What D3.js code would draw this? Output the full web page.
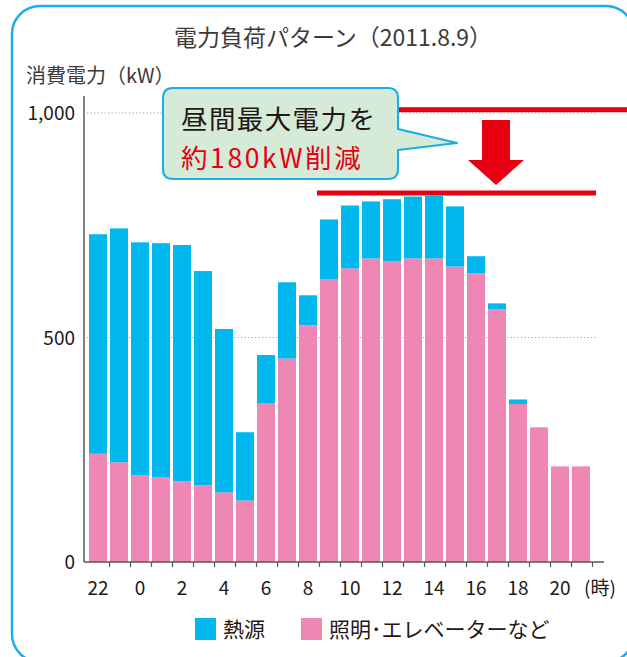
<!DOCTYPE html>
<html>
<head>
  <meta charset="utf-8">
  <title>電力負荷パターン</title>
  <script src="https://d3js.org/d3.v7.min.js"></script>
  <style>
    body { margin: 0; background: #fff; }
    text { font-family: "Noto Sans CJK JP", "Noto Sans", sans-serif; }
  </style>
</head>
<body>
  <div id="chart"></div>
  <script>
    // hours on the x axis (22h of the previous day through 21h)
    const hours = [22, 23, 0, 1, 2, 3, 4, 5, 6, 7, 8, 9, 10, 11, 12, 13, 14, 15, 16, 17, 18, 19, 20, 21];
    // 照明・エレベーターなど (kW)
    const lighting = [241, 222, 193, 189, 180, 171, 155, 137, 354, 453, 527, 629, 654, 676, 670, 676, 676, 658, 643, 563, 352, 300, 213, 213];
    // 熱源 (kW)
    const heat = [489, 521, 519, 521, 526, 477, 364, 152, 107, 170, 67, 134, 140, 127, 138, 138, 140, 134, 38, 13, 10, 0, 0, 0];
    const yTicks = [0, 500, 1000];
    // peak before / after (kW)
    const peakBefore = 1007;
    const peakAfter = 822;

    const seriesNames = ["照明・エレベーターなど", "熱源"];
    const colors = { "熱源": "#00b8ee", "照明・エレベーターなど": "#ee87b4" };
    const textColor = "#231815";
    const axisColor = "#595757";

    const width = 627, height = 657;
    const svg = d3.select("#chart").append("svg")
      .attr("width", width)
      .attr("height", height);

    // outer rounded frame
    svg.append("rect")
      .attr("x", 12).attr("y", 6)
      .attr("width", 622).attr("height", 656)
      .attr("rx", 28)
      .attr("fill", "none")
      .attr("stroke", "#1aaee8")
      .attr("stroke-width", 2.5);

    // scales
    const x = d3.scaleBand()
      .domain(hours)
      .range([89, 590])
      .paddingInner(1 / 7);

    const y = d3.scaleLinear()
      .domain([0, 1000])
      .range([562, 113]);

    // dotted gridlines
    svg.selectAll(".grid")
      .data(yTicks.filter(d => d > 0))
      .enter()
      .append("line")
      .attr("x1", 87).attr("x2", 597)
      .attr("y1", d => y(d)).attr("y2", d => y(d))
      .attr("stroke", "#9fa0a0")
      .attr("stroke-width", 1.2)
      .attr("stroke-dasharray", "1.2,2.3");

    // stacked bars
    const table = hours.map((h, i) => ({ hour: h, "照明・エレベーターなど": lighting[i], "熱源": heat[i] }));
    const stacked = d3.stack().keys(seriesNames)(table);

    svg.append("g")
      .selectAll("g")
      .data(stacked)
      .enter()
      .append("g")
      .attr("fill", d => colors[d.key])
      .selectAll("rect")
      .data(d => d)
      .enter()
      .append("rect")
      .attr("x", d => x(d.data.hour))
      .attr("y", d => y(d[1]))
      .attr("width", x.bandwidth())
      .attr("height", d => y(d[0]) - y(d[1]));

    // y axis
    svg.append("line")
      .attr("x1", 84).attr("x2", 84)
      .attr("y1", 96).attr("y2", y(0))
      .attr("stroke", axisColor)
      .attr("stroke-width", 1.5);

    const yAxis = svg.append("g")
      .attr("transform", "translate(75,0)")
      .call(d3.axisLeft(y).tickValues(yTicks).tickFormat(d3.format(",")).tickSize(0));
    yAxis.select(".domain").remove();
    yAxis.selectAll("text")
      .attr("x", 0)
      .attr("dy", "0.36em")
      .style("font-size", "19px")
      .style("font-family", "\"Noto Sans CJK JP\", sans-serif")
      .attr("fill", textColor);

    // x axis
    svg.append("line")
      .attr("x1", 84).attr("x2", 604)
      .attr("y1", y(0)).attr("y2", y(0))
      .attr("stroke", axisColor)
      .attr("stroke-width", 1.5);

    svg.selectAll(".xtick")
      .data(hours)
      .enter()
      .append("line")
      .attr("x1", d => x(d) + x.step() - 0.5)
      .attr("x2", d => x(d) + x.step() - 0.5)
      .attr("y1", y(0)).attr("y2", y(0) + 5)
      .attr("stroke", axisColor)
      .attr("stroke-width", 1.2);

    const xAxis = svg.append("g")
      .attr("transform", `translate(0,${y(0)})`)
      .call(d3.axisBottom(x).tickSize(0).tickFormat(d => d % 2 === 0 ? d : ""));
    xAxis.select(".domain").remove();
    xAxis.selectAll("text")
      .attr("y", 33)
      .attr("dy", 0)
      .style("font-size", "19px")
      .style("font-family", "\"Noto Sans CJK JP\", sans-serif")
      .attr("fill", textColor);

    svg.append("text")
      .attr("x", 584)
      .attr("y", y(0) + 33)
      .style("font-size", "19px")
      .attr("fill", textColor)
      .text("(時)");

    // title and axis title
    svg.append("text")
      .attr("x", 333)
      .attr("y", 46)
      .attr("text-anchor", "middle")
      .style("font-size", "23px")
      .attr("fill", "#3e3a39")
      .text("電力負荷パターン（2011.8.9）");

    svg.append("text")
      .attr("x", 26)
      .attr("y", 83)
      .style("font-size", "20px")
      .attr("fill", "#3e3a39")
      .text("消費電力（kW）");

    // peak reference lines
    const red = "#e60012";
    svg.append("line")
      .attr("x1", 398).attr("x2", 627)
      .attr("y1", y(peakBefore)).attr("y2", y(peakBefore))
      .attr("stroke", red)
      .attr("stroke-width", 5);

    svg.append("line")
      .attr("x1", 317).attr("x2", 596)
      .attr("y1", y(peakAfter)).attr("y2", y(peakAfter))
      .attr("stroke", red)
      .attr("stroke-width", 5);

    // down arrow
    svg.append("path")
      .attr("d", "M482,120 L510,120 L510,160 L524,160 L496,185 L468,160 L482,160 Z")
      .attr("fill", red);

    // callout box with tail
    svg.append("path")
      .attr("d", "M173,88 L388,88 Q398,88 398,98 L398,129 L457,143 L398,150 L398,169 Q398,179 388,179 L173,179 Q163,179 163,169 L163,98 Q163,88 173,88 Z")
      .attr("fill", "#d5ebd8")
      .attr("stroke", "#1aaee8")
      .attr("stroke-width", 2)
      .attr("stroke-linejoin", "round");

    svg.append("text")
      .attr("x", 181)
      .attr("y", 129)
      .style("font-size", "26.5px")
      .style("letter-spacing", "1.4px")
      .attr("fill", "#231815")
      .text("昼間最大電力を");

    svg.append("text")
      .attr("x", 181)
      .attr("y", 167.5)
      .style("font-size", "26.5px")
      .style("letter-spacing", "2.6px")
      .attr("fill", red)
      .text("約180kW削減");

    // legend
    const legend = [
      { key: "熱源", label: "熱源", x: 195 },
      { key: "照明・エレベーターなど", label: "照明･エレベーターなど", x: 301 }
    ];
    const lg = svg.selectAll(".legend")
      .data(legend)
      .enter()
      .append("g")
      .attr("transform", d => `translate(${d.x},618)`);
    lg.append("rect")
      .attr("width", 21).attr("height", 22)
      .attr("fill", d => colors[d.key]);
    lg.append("text")
      .attr("x", 28)
      .attr("y", 19)
      .style("font-size", "21px")
      .attr("fill", textColor)
      .text(d => d.label);
  </script>
</body>
</html>
